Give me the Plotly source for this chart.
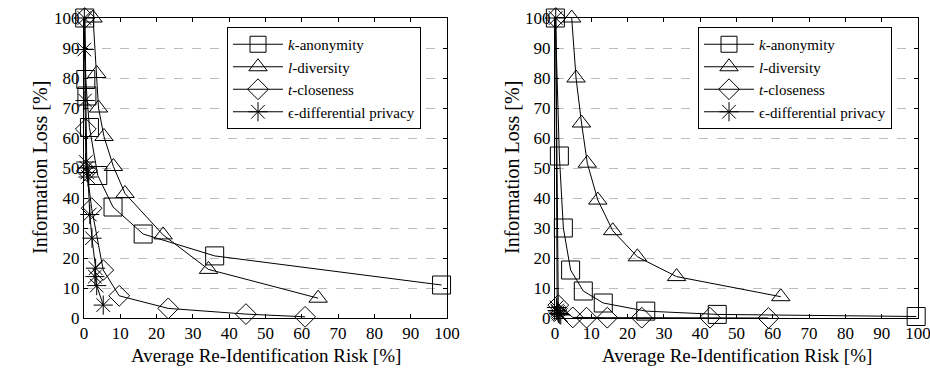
import plotly.graph_objects as go

# ---- data: left panel ----
k_left_x = [0.2, 0.5, 0.8, 1.5, 3.8, 8.0, 16.3, 36.0, 98.5]
k_left_y = [100, 79.5, 74, 63.5, 47.5, 37, 28, 20.7, 11]
l_left_x = [2.5, 3.5, 4.0, 5.5, 8.1, 11.3, 21.8, 34.3, 64.5]
l_left_y = [100, 81.5, 70, 60.5, 50.5, 41.5, 27.7, 16.2, 6.6]
t_left_x = [0.2, 0.5, 0.8, 2.1, 5.3, 9.7, 23.2, 44.6, 60.9]
t_left_y = [100, 63, 49, 36.6, 16, 7.4, 3.2, 1.3, 0.4]
e_left_x = [0.1, 0.1, 0.3, 0.5, 0.7, 0.9, 1.1, 1.6, 2.2, 3.2, 3.0, 3.5, 5.3]
e_left_y = [100, 89.5, 72.5, 52, 50, 48.5, 47, 34.5, 26.6, 16.6, 13.8, 10.8, 4.3]

# ---- data: right panel ----
k_right_x = [0.1, 1.2, 2.3, 4.3, 7.8, 13.3, 25.0, 44.7, 99.5]
k_right_y = [100, 54, 30, 16, 9, 5, 2.3, 1.2, 0.5]
l_right_x = [4.6, 5.8, 7.3, 8.9, 11.8, 15.9, 22.7, 33.5, 62.2]
l_right_y = [100, 80, 65, 51.6, 39.3, 29.1, 20.4, 13.8, 7.1]
t_right_x = [0.2, 0.9, 4.9, 8.7, 14.4, 23.9, 42.7, 58.8]
t_right_y = [100, 4.3, 0.2, 0.1, 0.1, 0.1, 0.1, 0.0]
e_right_x = [0.2, 0.4, 0.6, 0.8, 1.0, 1.3, 1.6]
e_right_y = [100, 3.5, 2.5, 2.0, 1.5, 1.2, 1.0]

tick_vals = [0, 10, 20, 30, 40, 50, 60, 70, 80, 90, 100]
tick_text = ["0", "10", "20", "30", "40", "50", "60", "70", "80", "90", "100"]
series_names = ["<i>k</i>-anonymity", "<i>l</i>-diversity", "<i>t</i>-closeness",
                "\u03f5-differential privacy"]
x_title = "Average Re-Identification Risk [%]"
y_title = "Information Loss [%]"

FONT = "Liberation Serif, Times New Roman, serif"
W, H = 930, 375

symbols = ["square-open", "triangle-up-open", "diamond-open", "asterisk-open"]
sizes = [18, 16, 16, 16]

fig = go.Figure()
left = [(k_left_x, k_left_y), (l_left_x, l_left_y), (t_left_x, t_left_y), (e_left_x, e_left_y)]
right = [(k_right_x, k_right_y), (l_right_x, l_right_y), (t_right_x, t_right_y), (e_right_x, e_right_y)]

for i, (xs, ys) in enumerate(left):
    fig.add_trace(go.Scatter(
        x=xs, y=ys, mode="lines+markers", name=series_names[i],
        line=dict(color="black", width=1),
        marker=dict(symbol=symbols[i], size=sizes[i], color="black",
                    line=dict(color="black", width=1)),
        xaxis="x", yaxis="y", legend="legend", cliponaxis=False))
for i, (xs, ys) in enumerate(right):
    fig.add_trace(go.Scatter(
        x=xs, y=ys, mode="lines+markers", name=series_names[i],
        line=dict(color="black", width=1),
        marker=dict(symbol=symbols[i], size=sizes[i], color="black",
                    line=dict(color="black", width=1)),
        xaxis="x2", yaxis="y2", legend="legend2", cliponaxis=False))

def px_x(p):
    return p / W

def px_y(p):
    return (H - p) / H

ydom = [px_y(318), px_y(18)]
common_x = dict(range=[0, 100], tickvals=tick_vals, ticktext=tick_text, ticks="inside",
                ticklen=4, tickcolor="black", showline=True, linecolor="black", linewidth=1,
                mirror="ticks", showgrid=False, zeroline=False, automargin=False,
                ticklabeloverflow="allow",
                tickfont=dict(family=FONT, size=17, color="black"))
common_y = dict(range=[0, 100], tickvals=tick_vals, ticktext=tick_text, ticks="inside",
                ticklen=4, tickcolor="black", showline=True, linecolor="black", linewidth=1,
                mirror="ticks", showgrid=True, gridcolor="#bdbdbd", griddash="dash",
                gridwidth=1, zeroline=False, automargin=False,
                ticklabeloverflow="allow",
                tickfont=dict(family=FONT, size=17, color="black"))

legend_common = dict(bgcolor="white", bordercolor="black", borderwidth=1,
                     font=dict(family=FONT, size=15, color="black"),
                     xanchor="left", yanchor="top", tracegroupgap=0, itemwidth=50)

fig.update_layout(
    width=W, height=H,
    margin=dict(l=0, r=0, t=0, b=0, autoexpand=False),
    paper_bgcolor="white", plot_bgcolor="white",
    xaxis=dict(domain=[px_x(84), px_x(447)], anchor="y", **common_x),
    yaxis=dict(domain=ydom, anchor="x", **common_y),
    xaxis2=dict(domain=[px_x(555), px_x(918)], anchor="y2", **common_x),
    yaxis2=dict(domain=ydom, anchor="x2", **common_y),
    legend=dict(x=px_x(227), y=px_y(27), **legend_common),
    legend2=dict(x=px_x(698), y=px_y(27), **legend_common),
    showlegend=True,
)

for cx, cy in [(266, 355), (737, 355)]:
    fig.add_annotation(text=x_title, x=px_x(cx), y=px_y(cy), xref="paper", yref="paper",
                       showarrow=False, font=dict(family=FONT, size=19, color="black"),
                       xanchor="center", yanchor="middle")
for cx, cy in [(40, 168), (512, 168)]:
    fig.add_annotation(text=y_title, x=px_x(cx), y=px_y(cy), xref="paper", yref="paper",
                       showarrow=False, textangle=-90,
                       font=dict(family=FONT, size=20, color="black"),
                       xanchor="center", yanchor="middle")

fig.write_html("out.html", config={"displayModeBar": False},
               post_script="document.body.style.margin='0';document.body.style.overflow='hidden';")
